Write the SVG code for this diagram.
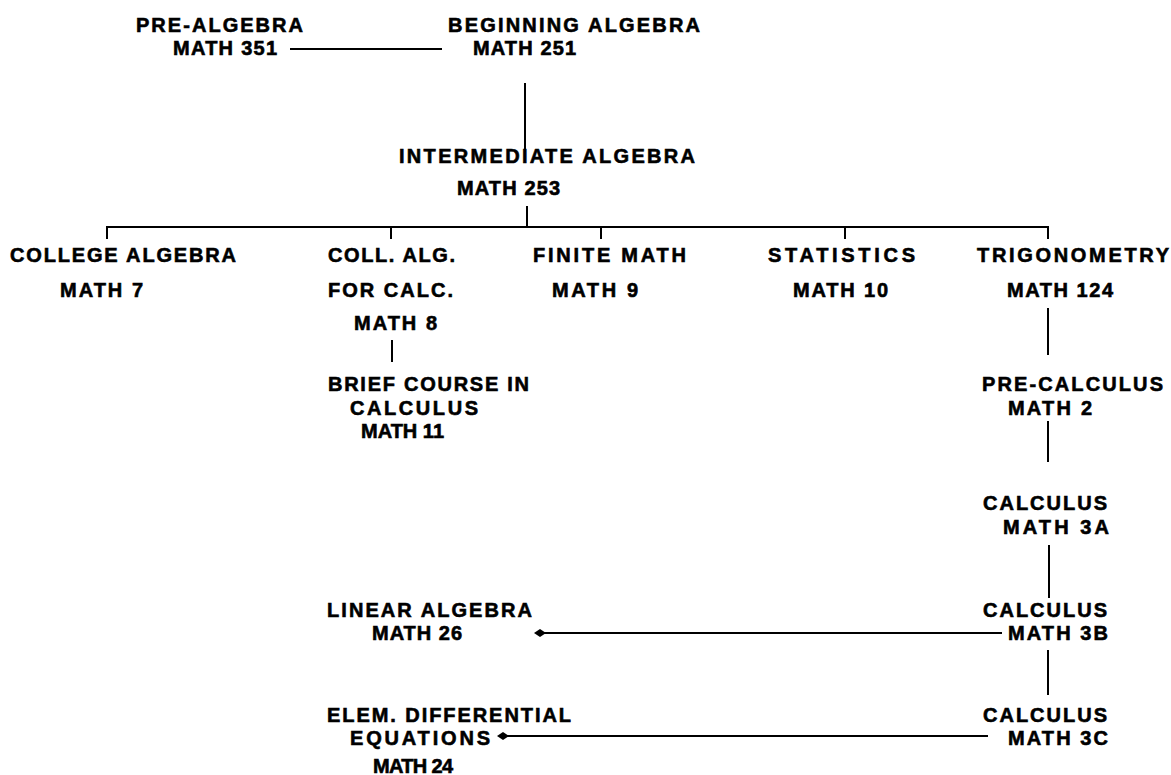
<svg xmlns="http://www.w3.org/2000/svg" width="1171" height="775" viewBox="0 0 1171 775">
<defs>
<style>
text{font-family:"Liberation Sans",Arial,sans-serif;font-weight:bold;font-size:20px;fill:#000;stroke:#000;stroke-width:0.6}
.c line,.c path{stroke:#000;stroke-width:2;fill:none}
</style>
<marker id="dia" viewBox="0 0 12 8" refX="6" refY="4" markerWidth="12" markerHeight="8" markerUnits="userSpaceOnUse" orient="auto">
<path d="M0,4 L6,0 L12,4 L6,8 Z" fill="#000"/>
</marker>
</defs>
<rect width="1171" height="775" fill="#fff"/>
<g class="c" id="connectors">
<line x1="290" y1="49" x2="442" y2="49"/>
<line x1="525" y1="83" x2="525" y2="152"/>
<line x1="527" y1="206" x2="527" y2="227"/>
<line x1="106" y1="227" x2="1049" y2="227"/>
<line x1="107" y1="226" x2="107" y2="239"/>
<line x1="391" y1="226" x2="391" y2="239"/>
<line x1="601" y1="226" x2="601" y2="239"/>
<line x1="845" y1="226" x2="845" y2="239"/>
<line x1="1048" y1="226" x2="1048" y2="239"/>
<line x1="392" y1="340" x2="392" y2="362"/>
<line x1="1048" y1="308" x2="1048" y2="355"/>
<line x1="1048" y1="421" x2="1048" y2="462"/>
<line x1="1049" y1="545" x2="1049" y2="598"/>
<line x1="1048" y1="650" x2="1048" y2="695"/>
<line x1="1002" y1="633" x2="540" y2="633" marker-end="url(#dia)"/>
<line x1="988" y1="736" x2="503" y2="736" marker-end="url(#dia)"/>
</g>
<g id="pre-algebra"><text x="136" y="32" textLength="167">PRE-ALGEBRA</text><text x="173" y="55" textLength="104">MATH 351</text></g>
<g id="beginning-algebra"><text x="448" y="32" textLength="252">BEGINNING ALGEBRA</text><text x="473" y="55" textLength="103">MATH 251</text></g>
<g id="intermediate-algebra"><text x="399" y="163" textLength="296">INTERMEDIATE ALGEBRA</text><text x="457" y="195" textLength="103">MATH 253</text></g>
<g id="college-algebra"><text x="10" y="262" textLength="226">COLLEGE ALGEBRA</text><text x="60" y="297" textLength="83">MATH 7</text></g>
<g id="coll-alg-calc"><text x="328" y="262" textLength="127">COLL. ALG.</text><text x="328" y="297" textLength="125">FOR CALC.</text><text x="354" y="330" textLength="83">MATH 8</text></g>
<g id="brief-calculus"><text x="328" y="391" textLength="201">BRIEF COURSE IN</text><text x="350" y="415" textLength="128">CALCULUS</text><text x="361" y="438" textLength="83">MATH 11</text></g>
<g id="finite-math"><text x="533" y="262" textLength="153">FINITE MATH</text><text x="552" y="297" textLength="86">MATH 9</text></g>
<g id="statistics"><text x="768" y="262" textLength="147">STATISTICS</text><text x="793" y="297" textLength="95">MATH 10</text></g>
<g id="trigonometry"><text x="977" y="262" textLength="192">TRIGONOMETRY</text><text x="1007" y="297" textLength="106">MATH 124</text></g>
<g id="pre-calculus"><text x="982" y="391" textLength="181">PRE-CALCULUS</text><text x="1008" y="415" textLength="84">MATH 2</text></g>
<g id="calculus-3a"><text x="983" y="510" textLength="124">CALCULUS</text><text x="1003" y="534" textLength="106">MATH 3A</text></g>
<g id="calculus-3b"><text x="983" y="617" textLength="124">CALCULUS</text><text x="1008" y="640" textLength="100">MATH 3B</text></g>
<g id="calculus-3c"><text x="983" y="722" textLength="124">CALCULUS</text><text x="1008" y="745" textLength="100">MATH 3C</text></g>
<g id="linear-algebra"><text x="327" y="617" textLength="205">LINEAR ALGEBRA</text><text x="372" y="640" textLength="90">MATH 26</text></g>
<g id="diff-eq"><text x="327" y="722" textLength="244">ELEM. DIFFERENTIAL</text><text x="350" y="745" textLength="140">EQUATIONS</text><text x="373" y="773" textLength="80">MATH 24</text></g>
</svg>
